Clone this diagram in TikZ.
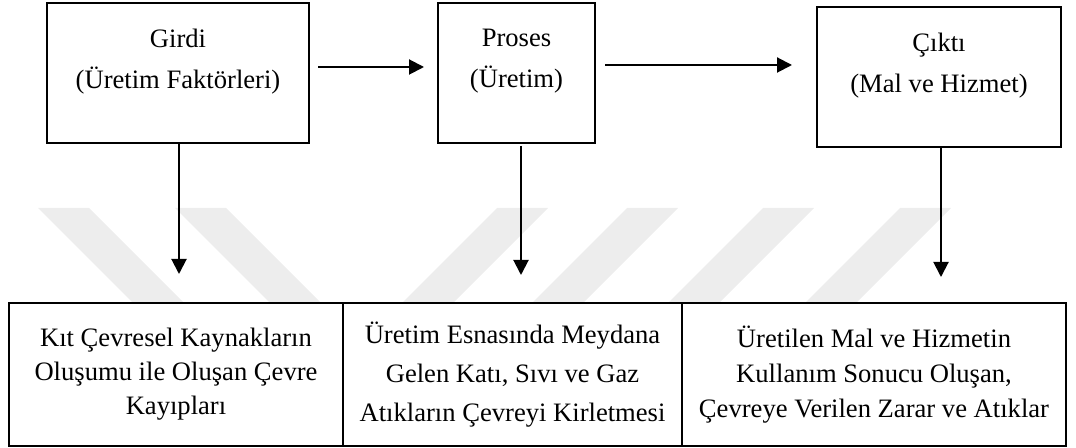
\documentclass[tikz,border=0pt]{standalone}
\usepackage{fontspec}
\setmainfont{Liberation Serif}
\usetikzlibrary{positioning,arrows.meta}
\definecolor{wmark}{HTML}{EDEDED}

\begin{document}
\begin{tikzpicture}[x=0.5pt, y=-0.5pt,
  box/.style={draw, line width=1pt, fill=white, inner sep=0, align=center,
              minimum height=71.5pt, font=\fontsize{13.3}{17}\selectfont},
  top/.style={box, minimum height=70pt},
  lab/.style={anchor=north, inner sep=0, align=center,
              font=\fontsize{13.3}{20.5}\selectfont},
  arr/.style={-{Triangle[length=7.5pt, width=7.5pt]}, line width=1pt}]
\useasboundingbox (0,0) rectangle (1076,448);
\foreach \a in {38, 175}
  \fill[wmark] (\a,208) -- (\a+51,208) -- (\a+146,303) -- (\a+95,303) -- cycle;
\foreach \a in {497, 627, 763, 900}
  \fill[wmark] (\a,208) -- (\a+51,208) -- (\a-44,303) -- (\a-95,303) -- cycle;
\node[top, minimum width=131pt] (girdi) at (178,73) {};
\node[lab] (girdi-t) at (178,29) {Girdi\\(Üretim Faktörleri)};
\node[top, minimum width=78.5pt] (proses) at (516.5,73) {};
\node[lab] (proses-t) at (516.5,29) {Proses\\(Üretim)};
\node[top, minimum width=122pt] (cikti) at (939,77) {};
\node[lab] (cikti-t) at (939,33) {Çıktı\\(Mal ve Hizmet)};
\node[box, minimum width=167pt] (kayip) at (176,374.5)
  {Kıt Çevresel Kaynakların\\Oluşumu ile Oluşan Çevre\\Kayıpları};
\node[box, minimum width=169.5pt, font=\fontsize{13.3}{19.5}\selectfont] (atik) at (512.5,374.5)
  {Üretim Esnasında Meydana\\Gelen Katı, Sıvı ve Gaz\\Atıkların Çevreyi Kirletmesi};
\node[box, minimum width=192pt, font=\fontsize{13.3}{17.5}\selectfont] (zarar) at (874,374.5)
  {Üretilen Mal ve Hizmetin\\Kullanım Sonucu Oluşan,\\Çevreye Verilen Zarar ve Atıklar};
\draw[arr] ([shift={(8,-6)}]girdi.east) -- ([shift={(-13,-6)}]girdi.east -| proses.west);
\draw[arr] ([shift={(9,-8)}]proses.east) -- ([shift={(-24,-8)}]proses.east -| cikti.west);
\draw[arr, shorten >=14pt] ([xshift=0.5pt]girdi.south) -- ([xshift=0.5pt]girdi.south |- kayip.north);
\draw[arr, shorten <=1pt, shorten >=13.5pt] ([xshift=2.25pt]proses.south)
  -- ([xshift=2.25pt]proses.south |- atik.north);
\draw[arr, shorten >=12.5pt] ([xshift=1pt]cikti.south) -- ([xshift=1pt]cikti.south |- zarar.north);
\end{tikzpicture}
\end{document}
